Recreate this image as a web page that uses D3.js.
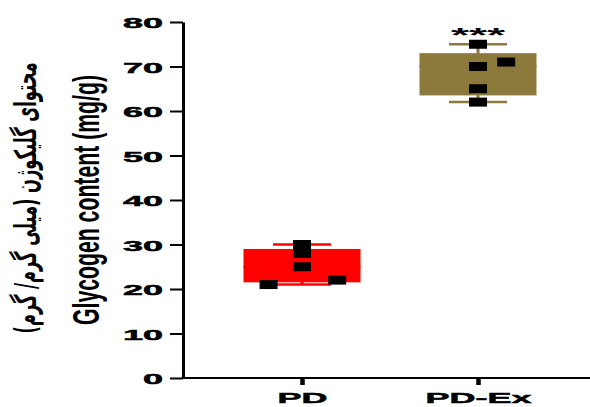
<!DOCTYPE html>
<html>
<head>
<meta charset="utf-8">
<script src="https://cdn.jsdelivr.net/npm/d3@7"></script>
<style>
  html, body { margin: 0; padding: 0; background: #fff; }
  svg { display: block; }
</style>
</head>
<body>
<div id="chart"></div>
<script>
// values
const groups = ['PD', 'PD-Ex'];
const pdValues = [30, 28, 25, 21, 22];
const pdExValues = [75, 70, 65, 62, 71];
// horizontal spread of the dots, as a fraction of the group step
const pdJitter = [0, 0, 0, -0.19, 0.2];
const pdExJitter = [0, 0, 0, 0, 0.16];
const yTicks = [0, 10, 20, 30, 40, 50, 60, 70, 80];
const groupColors = ['#ff0000', '#8b7a3b'];
const stars = ['', '***'];
const yTitle = 'Glycogen content (mg/g)';
const yTitleFa = 'محتوای گلیکوژن (میلی گرم/ گرم)';

const width = 590, height = 407;
const plotLeft = 183, plotTop = 22, plotBottom = 378;
const stretch = 2.32; // the picture is squashed vertically, text looks wide

const svg = d3.select('#chart').append('svg')
  .attr('width', width)
  .attr('height', height);

const y = d3.scaleLinear().domain([0, 80]).range([plotBottom, plotTop]);
const x = d3.scalePoint().domain(groups).range([302, 478]);
const step = x.step();

// quartiles the way prism does it: (n+1) positions
const quart = (vals, p) => {
  const s = vals.slice().sort(d3.ascending);
  const pos = (s.length + 1) * p - 1;
  const lo = Math.floor(pos), hi = Math.ceil(pos);
  return s[lo] + (s[hi] - s[lo]) * (pos - lo);
};

const series = [
  { name: groups[0], values: pdValues, jitter: pdJitter, color: groupColors[0], star: stars[0] },
  { name: groups[1], values: pdExValues, jitter: pdExJitter, color: groupColors[1], star: stars[1] }
];

const boxW = 117, capW = 58;

series.forEach(s => {
  const cx = x(s.name);
  const q1 = quart(s.values, 0.25), q3 = quart(s.values, 0.75), med = quart(s.values, 0.5);
  const lo = d3.min(s.values), hi = d3.max(s.values);
  const g = svg.append('g');

  // whiskers
  g.append('line')
    .attr('x1', cx).attr('x2', cx)
    .attr('y1', y(hi)).attr('y2', y(lo))
    .attr('stroke', s.color).attr('stroke-width', 3);
  [hi, lo].forEach(v => {
    g.append('line')
      .attr('x1', cx - capW / 2).attr('x2', cx + capW / 2)
      .attr('y1', y(v)).attr('y2', y(v))
      .attr('stroke', s.color).attr('stroke-width', 2.5);
  });

  g.append('rect')
    .attr('x', cx - boxW / 2)
    .attr('width', boxW)
    .attr('y', y(q3))
    .attr('height', y(q1) - y(q3))
    .attr('fill', s.color);

  g.append('line')
    .attr('x1', cx - boxW / 2).attr('x2', cx + boxW / 2)
    .attr('y1', y(med)).attr('y2', y(med))
    .attr('stroke', s.color).attr('stroke-width', 2);

  g.selectAll(null)
    .data(s.values)
    .enter()
    .append('rect')
    .attr('x', (d, i) => cx + s.jitter[i] * step - 9)
    .attr('y', d => y(d) - 4.5)
    .attr('width', 18)
    .attr('height', 9)
    .attr('fill', '#000');

  if (s.star) {
    g.append('text')
      .attr('transform', `translate(${cx},${y(hi) - 2}) scale(${stretch},1)`)
      .attr('text-anchor', 'middle')
      .attr('font-family', 'Liberation Sans, Arial, sans-serif')
      .attr('font-weight', 'bold')
      .attr('font-size', 20)
      .text(s.star);
  }
});

// y axis
const yAxis = svg.append('g')
  .attr('transform', `translate(${plotLeft},0)`)
  .call(d3.axisLeft(y).tickValues(yTicks).tickSize(13).tickSizeOuter(0));
yAxis.select('.domain').attr('stroke', '#000').attr('stroke-width', 3);
yAxis.selectAll('.tick line').attr('stroke', '#000').attr('stroke-width', 2);
yAxis.selectAll('.tick text')
  .attr('x', 0)
  .attr('dy', '0.36em')
  .attr('transform', `translate(-20,0) scale(${stretch},1)`)
  .attr('fill', '#000')
  .attr('stroke', '#000')
  .attr('stroke-width', 0.5)
  .attr('font-family', 'Liberation Sans, Arial, sans-serif')
  .attr('font-weight', 'bold')
  .attr('font-size', 15.5);

// x axis
svg.append('line')
  .attr('x1', plotLeft - 1.5).attr('x2', width)
  .attr('y1', plotBottom).attr('y2', plotBottom)
  .attr('stroke', '#000').attr('stroke-width', 2);
const xAxis = svg.append('g')
  .attr('transform', `translate(0,${plotBottom})`)
  .call(d3.axisBottom(x).tickSize(7).tickSizeOuter(0));
xAxis.select('.domain').remove();
xAxis.selectAll('.tick line').attr('stroke', '#000').attr('stroke-width', 4.5);
xAxis.selectAll('.tick text')
  .attr('y', 0)
  .attr('dy', 0)
  .attr('transform', `translate(0,25) scale(${stretch},1)`)
  .attr('fill', '#000')
  .attr('stroke', '#000')
  .attr('stroke-width', 0.5)
  .attr('font-family', 'Liberation Sans, Arial, sans-serif')
  .attr('font-weight', 'bold')
  .attr('font-size', 15.5);

// axis titles: squeeze along their length with a scale so the box stays true
const squeezedTitle = (label, tx, ty, len, family, size) => {
  const t = svg.append('text')
    .attr('text-anchor', 'middle')
    .attr('font-family', family)
    .attr('font-weight', 'bold')
    .attr('font-size', size)
    .attr('fill', '#000')
    .text(label);
  const natural = t.node().getComputedTextLength();
  t.attr('transform', `translate(${tx},${ty}) rotate(-90) scale(${len / natural},1)`);
};

squeezedTitle(yTitle, 99, 200, 250, 'Liberation Sans, Arial, sans-serif', 37);
squeezedTitle(yTitleFa, 36, 198, 271, 'DejaVu Sans, sans-serif', 30);
</script>
</body>
</html>
